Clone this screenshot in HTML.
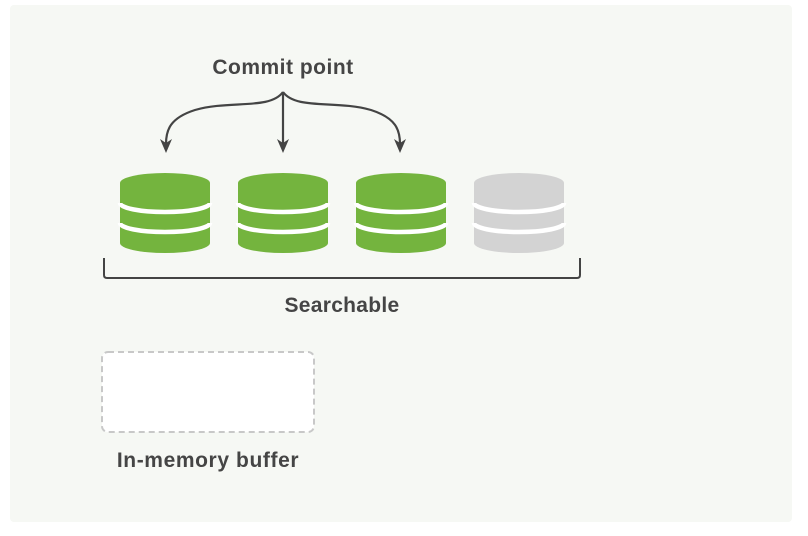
<!DOCTYPE html>
<html><head><style>
html,body{margin:0;padding:0;background:#fff;}
svg{display:block;}
text{font-family:"Liberation Sans",sans-serif;font-weight:bold;fill:#454545;}
</style></head><body>
<svg width="808" height="536" viewBox="0 0 808 536">
<defs>
<g id="cyl">
<path d="M-45,183 A45,10 0 0 1 45,183 L45,243 A45,10 0 0 1 -45,243 Z"/>
<path d="M-45,203 A45,9 0 0 0 45,203 M-45,223 A45,9 0 0 0 45,223" fill="none" stroke="#fff" stroke-width="4.5"/>
</g>
</defs>
<rect x="10" y="5" width="782" height="517" rx="4" fill="#f6f8f4"/>
<text x="283" y="74" font-size="21" text-anchor="middle" letter-spacing="0.5">Commit point</text>
<g fill="none" stroke="#444" stroke-width="2.2">
<path d="M283,92 L283,144"/>
<path d="M283,92 C270,110 230,100 195,110 C170,118 166,130 166,144"/>
<path d="M283,92 C296,110 336,100 371,110 C396,118 400,130 400,144"/>
</g>
<g fill="#444">
<path d="M277,139 L283,153 L289,139 L283,143 Z"/>
<path d="M160,139 L166,153 L172,139 L166,143 Z"/>
<path d="M394,139 L400,153 L406,139 L400,143 Z"/>
</g>
<use href="#cyl" x="165" fill="#74b43e"/>
<use href="#cyl" x="283" fill="#74b43e"/>
<use href="#cyl" x="401" fill="#74b43e"/>
<use href="#cyl" x="519" fill="#d3d3d3"/>
<path d="M104,258 L104,275 Q104,278 107,278 L577,278 Q580,278 580,275 L580,258" fill="none" stroke="#444" stroke-width="2"/>
<text x="342" y="312" font-size="21" text-anchor="middle" letter-spacing="0.3">Searchable</text>
<rect x="102" y="352" width="212" height="80" rx="6" fill="#fff" stroke="#c8c8c8" stroke-width="2" stroke-dasharray="6,4"/>
<text x="208" y="467" font-size="21" text-anchor="middle" letter-spacing="0.6">In-memory buffer</text>
</svg>
</body></html>
